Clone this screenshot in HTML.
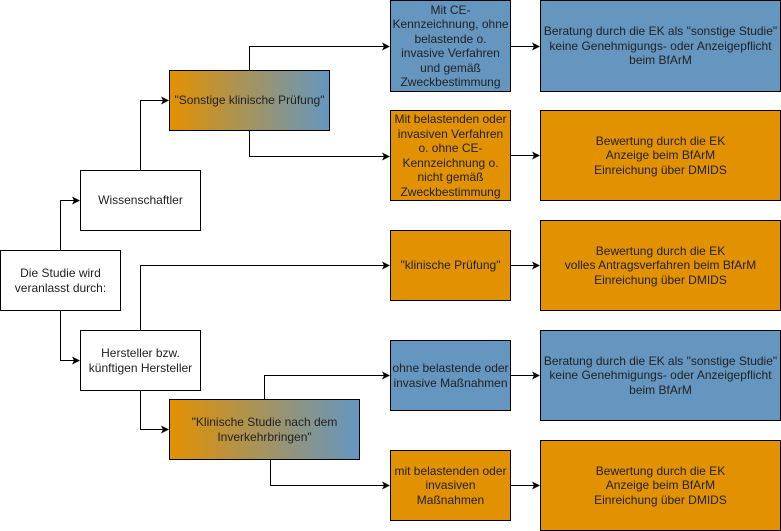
<!DOCTYPE html>
<html><head><meta charset="utf-8"><style>
body{margin:0;width:781px;height:531px;background:#fff;position:relative;overflow:hidden;font-family:"Liberation Sans",Arial,sans-serif;}
.b{position:absolute;box-sizing:border-box;border:1px solid #000;display:flex;align-items:center;justify-content:center;text-align:center;font-size:12px;line-height:14.5px;color:#222;}
.o{background:#e29100;}
.u{background:#6596c0;}
.g{background:linear-gradient(to right,#e29100,#6596c0);}
svg{position:absolute;left:0;top:0;}
</style></head><body>
<svg width="781" height="531">
<defs><marker id="a" markerWidth="8" markerHeight="8" refX="7" refY="4" orient="auto" markerUnits="userSpaceOnUse"><path d="M0,0 L8,4 L0,8 L2,4z" fill="#000"/></marker></defs>
<g fill="none" stroke="#000" stroke-width="1" marker-end="url(#a)">
<path d="M60.5,250 V200.5 H79"/>
<path d="M60.5,310 V360.5 H79"/>
<path d="M140.5,170 V100.5 H168"/>
<path d="M249.5,70 V46.5 H389"/>
<path d="M249.5,130 V156.5 H389"/>
<path d="M140.5,330 V265.5 H389"/>
<path d="M140.5,390 V429.5 H168"/>
<path d="M264.5,399 V375.5 H389"/>
<path d="M270.5,459 V485.5 H389"/>
<path d="M510,46.5 H539"/>
<path d="M510,155.5 H539"/>
<path d="M510,265.5 H539"/>
<path d="M510,375.5 H539"/>
<path d="M510,485.5 H539"/>
</g></svg>
<div class="b" style="left:0;top:250px;width:121px;height:61px;background:#fff">Die Studie wird<br>veranlasst durch:</div>
<div class="b" style="left:80px;top:170px;width:121px;height:61px;background:#fff">Wissenschaftler</div>
<div class="b" style="left:80px;top:330px;width:121px;height:61px;background:#fff">Hersteller bzw.<br>künftigen Hersteller</div>
<div class="b g" style="left:169px;top:70px;width:161px;height:61px">"Sonstige klinische Prüfung"</div>
<div class="b g" style="left:169px;top:399px;width:191px;height:61px">"Klinische Studie nach dem<br>Inverkehrbringen"</div>
<div class="b u" style="left:390px;top:0;width:121px;height:92px">Mit CE-<br>Kennzeichnung, ohne<br>belastende o.<br>invasive Verfahren<br>und gemäß<br>Zweckbestimmung</div>
<div class="b o" style="left:390px;top:110px;width:121px;height:91px">Mit belastenden oder<br>invasiven Verfahren<br>o. ohne CE-<br>Kennzeichnung o.<br>nicht gemäß<br>Zweckbestimmung</div>
<div class="b o" style="left:390px;top:230px;width:121px;height:71px">"klinische Prüfung"</div>
<div class="b u" style="left:390px;top:340px;width:121px;height:71px">ohne belastende oder<br>invasive Maßnahmen</div>
<div class="b o" style="left:390px;top:450px;width:121px;height:71px">mit belastenden oder<br>invasiven<br>Maßnahmen</div>
<div class="b u" style="left:540px;top:0;width:241px;height:92px">Beratung durch die EK als "sonstige Studie"<br>keine Genehmigungs- oder Anzeigepflicht<br>beim BfArM</div>
<div class="b o" style="left:540px;top:110px;width:241px;height:91px">Bewertung durch die EK<br>Anzeige beim BfArM<br>Einreichung über DMIDS</div>
<div class="b o" style="left:540px;top:220px;width:241px;height:91px">Bewertung durch die EK<br>volles Antragsverfahren beim BfArM<br>Einreichung über DMIDS</div>
<div class="b u" style="left:540px;top:330px;width:241px;height:91px">Beratung durch die EK als "sonstige Studie"<br>keine Genehmigungs- oder Anzeigepflicht<br>beim BfArM</div>
<div class="b o" style="left:540px;top:440px;width:241px;height:91px">Bewertung durch die EK<br>Anzeige beim BfArM<br>Einreichung über DMIDS</div>
</body></html>
